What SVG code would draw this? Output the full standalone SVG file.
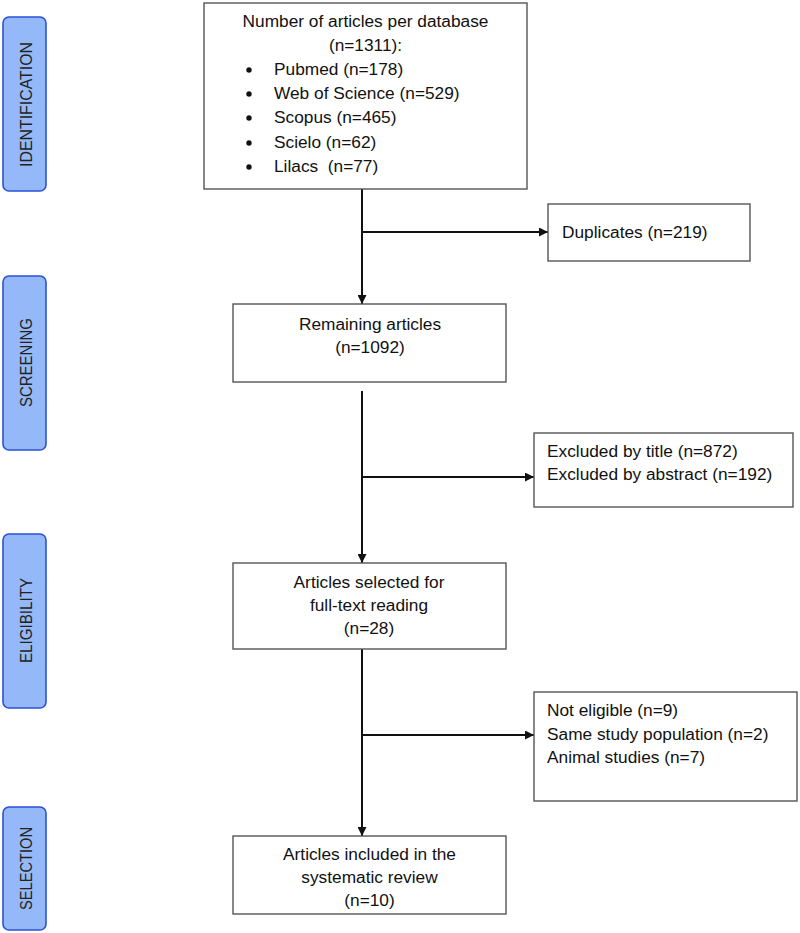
<svg xmlns="http://www.w3.org/2000/svg" width="800" height="933" viewBox="0 0 800 933">
<style>
.box{fill:#fff;stroke:#555;stroke-width:1.4}
.stage{fill:#94b8f8;stroke:#2a52d6;stroke-width:1.6}
.t{font-family:"Liberation Sans",Arial,sans-serif;font-size:17.3px;fill:#111}
.c{text-anchor:middle}
.st{font-family:"Liberation Sans",Arial,sans-serif;font-size:17px;fill:#222;text-anchor:middle}
.ln{fill:none;stroke:#111;stroke-width:2}
.dot{fill:#111}
</style>
<defs>
<marker id="ah" viewBox="0 0 10 10" refX="10" refY="5" markerWidth="4.5" markerHeight="4.5" orient="auto" markerUnits="strokeWidth">
<path d="M0,0 L10,5 L0,10 Z" fill="#111"/>
</marker>
</defs>
<g id="stage-identification"><rect class="stage" x="3" y="17" width="43" height="174" rx="6"/><text class="st" transform="translate(31.5,104.5) rotate(-90)" textLength="125" lengthAdjust="spacingAndGlyphs">IDENTIFICATION</text></g>
<g id="stage-screening"><rect class="stage" x="3" y="276" width="43" height="174" rx="6"/><text class="st" transform="translate(31.5,362.5) rotate(-90)" textLength="89" lengthAdjust="spacingAndGlyphs">SCREENING</text></g>
<g id="stage-eligibility"><rect class="stage" x="3" y="534" width="43" height="174" rx="6"/><text class="st" transform="translate(31.5,620.5) rotate(-90)" textLength="85" lengthAdjust="spacingAndGlyphs">ELIGIBILITY</text></g>
<g id="stage-selection"><rect class="stage" x="3" y="807" width="43" height="123" rx="6"/><text class="st" transform="translate(31.5,868.5) rotate(-90)" textLength="83" lengthAdjust="spacingAndGlyphs">SELECTION</text></g>
<g id="connectors">
<line class="ln" x1="362" y1="189" x2="362" y2="304" marker-end="url(#ah)"/>
<line class="ln" x1="362" y1="232" x2="548" y2="232" marker-end="url(#ah)"/>
<line class="ln" x1="362" y1="391" x2="362" y2="563" marker-end="url(#ah)"/>
<line class="ln" x1="362" y1="477" x2="534" y2="477" marker-end="url(#ah)"/>
<line class="ln" x1="362" y1="649" x2="362" y2="836" marker-end="url(#ah)"/>
<line class="ln" x1="362" y1="735" x2="534" y2="735" marker-end="url(#ah)"/>
</g>
<g id="node-databases">
<rect class="box" x="204" y="3" width="323" height="186"/>
<text class="t c" x="365.5" y="27">Number of articles per database</text>
<text class="t c" x="365.5" y="51">(n=1311):</text>
<circle class="dot" cx="249" cy="70" r="2.7"/><text class="t" x="274" y="75">Pubmed (n=178)</text>
<circle class="dot" cx="249" cy="94" r="2.7"/><text class="t" x="274" y="99">Web of Science (n=529)</text>
<circle class="dot" cx="249" cy="118" r="2.7"/><text class="t" x="274" y="123">Scopus (n=465)</text>
<circle class="dot" cx="249" cy="143" r="2.7"/><text class="t" x="274" y="148">Scielo (n=62)</text>
<circle class="dot" cx="249" cy="167" r="2.7"/><text class="t" x="274" y="172" xml:space="preserve">Lilacs  (n=77)</text>
</g>
<g id="node-duplicates"><rect class="box" x="548" y="204" width="202" height="57"/><text class="t" x="562" y="238">Duplicates (n=219)</text></g>
<g id="node-remaining"><rect class="box" x="233" y="304" width="273" height="78"/><text class="t c" x="370" y="330">Remaining articles</text><text class="t c" x="370" y="353">(n=1092)</text></g>
<g id="node-excluded"><rect class="box" x="534" y="433" width="259" height="74"/><text class="t" x="547" y="457">Excluded by title (n=872)</text><text class="t" x="547" y="480">Excluded by abstract (n=192)</text></g>
<g id="node-fulltext"><rect class="box" x="233" y="563" width="273" height="86"/><text class="t c" x="369" y="588">Articles selected for</text><text class="t c" x="369" y="611">full-text reading</text><text class="t c" x="369" y="634">(n=28)</text></g>
<g id="node-noteligible"><rect class="box" x="534" y="692" width="263" height="109"/><text class="t" x="547" y="716">Not eligible (n=9)</text><text class="t" x="547" y="740">Same study population (n=2)</text><text class="t" x="547" y="763">Animal studies (n=7)</text></g>
<g id="node-included"><rect class="box" x="233" y="836" width="273" height="78"/><text class="t c" x="369.5" y="860">Articles included in the</text><text class="t c" x="369.5" y="883">systematic review</text><text class="t c" x="369.5" y="906">(n=10)</text></g>
</svg>
